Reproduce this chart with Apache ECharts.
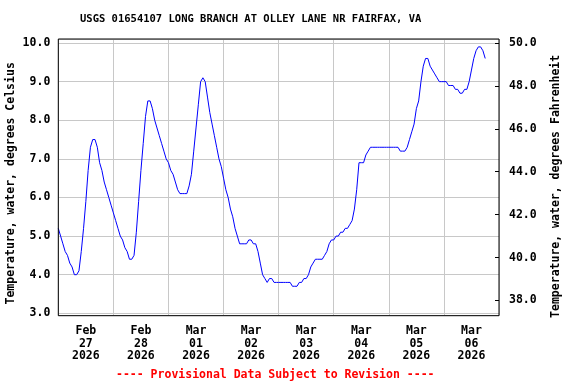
<!DOCTYPE html>
<html><head><meta charset="utf-8">
<script src="https://cdn.jsdelivr.net/npm/echarts@6/dist/echarts.min.js"></script>
<style>html,body{margin:0;padding:0;background:#fff}#c{width:576px;height:384px}</style>
</head><body><div id="c"></div>
<script>
const titleText = 'USGS 01654107 LONG BRANCH AT OLLEY LANE NR FAIRFAX, VA';
const footnoteText = '---- Provisional Data Subject to Revision ----';
const leftAxisName = 'Temperature, water, degrees Celsius';
const rightAxisName = 'Temperature, water, degrees Fahrenheit';
// day labels, one per day starting 2026-02-27
const dayLabels = ['Feb\n27\n2026','Feb\n28\n2026','Mar\n01\n2026','Mar\n02\n2026','Mar\n03\n2026','Mar\n04\n2026','Mar\n05\n2026','Mar\n06\n2026'];
// hourly water temperature (deg C), starting 2026-02-27 00:00
const hourlyTempC = [
  // Feb 27
  5.2,5.0,4.8,4.6,4.5,4.3,4.2,4.0,4.0,4.1,4.6,5.2,5.9,6.7,7.3,7.5,7.5,7.3,6.9,6.7,6.4,6.2,6.0,5.8,
  // Feb 28
  5.6,5.4,5.2,5.0,4.9,4.7,4.6,4.4,4.4,4.5,5.1,5.9,6.7,7.4,8.1,8.5,8.5,8.3,8.0,7.8,7.6,7.4,7.2,7.0,
  // Mar 01
  6.9,6.7,6.6,6.4,6.2,6.1,6.1,6.1,6.1,6.3,6.6,7.2,7.8,8.4,9.0,9.1,9.0,8.6,8.2,7.9,7.6,7.3,7.0,6.8,
  // Mar 02
  6.5,6.2,6.0,5.7,5.5,5.2,5.0,4.8,4.8,4.8,4.8,4.9,4.9,4.8,4.8,4.6,4.3,4.0,3.9,3.8,3.9,3.9,3.8,3.8,
  // Mar 03
  3.8,3.8,3.8,3.8,3.8,3.8,3.7,3.7,3.7,3.8,3.8,3.9,3.9,4.0,4.2,4.3,4.4,4.4,4.4,4.4,4.5,4.6,4.8,4.9,
  // Mar 04
  4.9,5.0,5.0,5.1,5.1,5.2,5.2,5.3,5.4,5.7,6.2,6.9,6.9,6.9,7.1,7.2,7.3,7.3,7.3,7.3,7.3,7.3,7.3,7.3,
  // Mar 05
  7.3,7.3,7.3,7.3,7.3,7.2,7.2,7.2,7.3,7.5,7.7,7.9,8.3,8.5,9.0,9.4,9.6,9.6,9.4,9.3,9.2,9.1,9.0,9.0,
  // Mar 06
  9.0,9.0,8.9,8.9,8.9,8.8,8.8,8.7,8.7,8.8,8.8,9.0,9.3,9.6,9.8,9.9,9.9,9.8,9.6
];
const cMin = 2.938, cMax = 10.104;
const toF = c => c * 9 / 5 + 32;

const mono = 'DejaVu Sans Mono';
const chart = echarts.init(document.getElementById('c'), null, {renderer: 'canvas'});
chart.setOption({
  animation: false,
  backgroundColor: '#ffffff',
  title: [
    {text: titleText, left: 80, top: 14, padding: 0,
     textStyle: {fontFamily: mono, fontSize: 10.5, fontWeight: 'bold', color: '#000'}},
    {text: footnoteText, left: 116, top: 369, padding: 0,
     textStyle: {fontFamily: mono, fontSize: 11.5, fontWeight: 'bold', color: '#ff0000'}}
  ],
  grid: {left: 58.3, right: 77, top: 39, bottom: 68.3, show: true, z: 5,
         outerBoundsMode: 'none', containLabel: false,
         borderColor: '#000', borderWidth: 1, backgroundColor: 'transparent'},
  xAxis: {
    type: 'value', min: 0, max: dayLabels.length * 24, interval: 24,
    axisLine: {show: false}, axisTick: {show: false},
    splitLine: {show: true, lineStyle: {color: '#c8c8c8', width: 1}},
    axisLabel: {
      customValues: dayLabels.map((d, i) => i * 24 + 12),
      formatter: v => dayLabels[Math.floor(v / 24)] || '',
      fontFamily: mono, fontSize: 11.5, fontWeight: 'bold', color: '#000',
      lineHeight: 12.7, margin: 9
    }
  },
  yAxis: [
    {type: 'value', position: 'left', min: cMin, max: cMax, splitNumber: 7,
     name: leftAxisName, nameLocation: 'middle', nameGap: 41, nameRotate: 90, nameMoveOverlap: false,
     nameTextStyle: {fontFamily: mono, fontSize: 11.5, fontWeight: 'bold', color: '#000', padding: [0, 12, 0, 0]},
     axisLine: {show: false}, axisTick: {show: false},
     splitLine: {show: true, lineStyle: {color: '#c8c8c8', width: 1}},
     axisLabel: {showMinLabel: false, showMaxLabel: false, formatter: v => v.toFixed(1),
       fontFamily: mono, fontSize: 11.5, fontWeight: 'bold', color: '#000', margin: 8}},
    {type: 'value', position: 'right', min: toF(cMin), max: toF(cMax), splitNumber: 6,
     name: rightAxisName, nameLocation: 'middle', nameGap: 51, nameRotate: 90, nameMoveOverlap: false,
     nameTextStyle: {fontFamily: mono, fontSize: 11.5, fontWeight: 'bold', color: '#000', padding: [0, 18, 0, 0]},
     axisLine: {show: false},
     axisTick: {show: true, inside: true, length: 4, lineStyle: {color: '#000'}},
     splitLine: {show: false},
     axisLabel: {showMinLabel: false, showMaxLabel: false, formatter: v => v.toFixed(1),
       fontFamily: mono, fontSize: 11.5, fontWeight: 'bold', color: '#000', margin: 10}}
  ],
  series: [{
    type: 'line', yAxisIndex: 0, showSymbol: false, symbol: 'none',
    lineStyle: {color: '#0000ff', width: 1},
    data: hourlyTempC.map((v, i) => [i, v])
  }]
});
</script></body></html>
